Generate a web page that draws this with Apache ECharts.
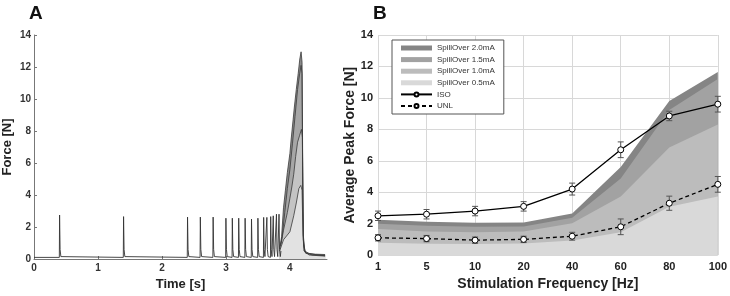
<!DOCTYPE html>
<html>
<head>
<meta charset="utf-8">
<script src="https://cdn.jsdelivr.net/npm/echarts@6/dist/echarts.min.js"></script>
<style>
html, body { margin: 0; padding: 0; background: #fff; }
#chart { width: 730px; height: 296px; }
</style>
</head>
<body>
<div id="chart"></div>
<script>
// ---- panel A : force trace over time ----
var spikeTimes = [0.4, 1.4, 2.4, 2.6, 2.8, 3.0, 3.1, 3.2, 3.3, 3.4, 3.5, 3.59, 3.64, 3.7, 3.74, 3.79, 3.83];
var spikePeaks = [2.75, 2.65, 2.62, 2.62, 2.62, 2.55, 2.55, 2.55, 2.55, 2.5, 2.55, 2.6, 2.6, 2.65, 2.7, 2.8, 2.8];
var baseLevel = 0.1;
var tetanus20 = [[3.84,0.6],[3.87,1.4],[3.9,3.2],[3.93,4.3],[3.96,5.4],[4.0,6.6],[4.02,7.5],[4.05,8.7],[4.07,9.5],[4.1,10.6],[4.13,11.6],[4.155,12.5],[4.175,12.95],[4.19,12.3],[4.2,6.0],[4.21,1.5],[4.23,0.5],[4.3,0.35],[4.4,0.3],[4.55,0.28]];
var tetanus15 = [[3.85,0.8],[3.88,1.4],[3.92,2.9],[3.96,4.4],[4.0,5.6],[4.04,7.2],[4.08,8.9],[4.12,10.6],[4.15,11.5],[4.175,12.1],[4.19,11.6],[4.2,5.0],[4.21,1.2],[4.24,0.4],[4.35,0.25],[4.55,0.22]];
var tetanus10 = [[3.86,0.9],[3.9,1.8],[3.96,2.9],[4.0,3.8],[4.03,4.5],[4.06,5.3],[4.09,6.4],[4.12,7.3],[4.15,7.7],[4.18,8.1],[4.195,7.6],[4.205,3.0],[4.215,0.8],[4.25,0.35],[4.55,0.2]];
var tetanus05 = [[3.84,0.5],[3.9,1.2],[4.0,1.7],[4.06,2.7],[4.1,3.5],[4.14,4.4],[4.17,4.6],[4.19,4.3],[4.205,1.5],[4.22,0.5],[4.3,0.25],[4.55,0.18]];

// ---- panel B : average peak force ----
var freqs = ['1', '5', '10', '20', '40', '60', '80', '100'];
var spill20 = [2.25, 2.12, 2.05, 2.07, 2.65, 5.6, 9.8, 11.65];
var spill15 = [2.0, 1.87, 1.8, 1.82, 2.38, 4.87, 9.23, 11.2];
var spill10 = [1.66, 1.5, 1.45, 1.5, 2.03, 3.73, 6.85, 8.3];
var spill05 = [0.79, 0.72, 0.7, 0.73, 0.93, 1.45, 3.07, 3.73];
var isoMean = [2.5, 2.6, 2.8, 3.1, 4.2, 6.7, 8.85, 9.6];
var isoErr = [0.3, 0.3, 0.3, 0.3, 0.38, 0.5, 0.3, 0.5];
var unlMean = [1.1, 1.05, 0.95, 1.0, 1.2, 1.8, 3.3, 4.5];
var unlErr = [0.2, 0.2, 0.2, 0.2, 0.25, 0.5, 0.45, 0.5];

// spike train built from the read spike times / peaks
var spikeTrace = [[0, baseLevel]];
for (var i = 0; i < spikeTimes.length; i++) {
    var t = spikeTimes[i];
    spikeTrace.push([t - 0.004, baseLevel]);
    spikeTrace.push([t, spikePeaks[i]]);
    spikeTrace.push([t + 0.008, 0.6]);
    spikeTrace.push([t + 0.02, baseLevel + 0.05]);
}
spikeTrace.push([3.86, 0.5]);

function errBars(mean, err) {
    var out = [];
    for (var i = 0; i < mean.length; i++) {
        out.push([i, mean[i] - err[i], mean[i] + err[i]]);
    }
    return out;
}

function renderErr(params, api) {
    var top = api.coord([api.value(0), api.value(2)]);
    var bot = api.coord([api.value(0), api.value(1)]);
    var w = 3;
    var st = { stroke: '#555', lineWidth: 1 };
    return {
        type: 'group',
        children: [
            { type: 'line', shape: { x1: top[0], y1: top[1], x2: bot[0], y2: bot[1] }, style: st },
            { type: 'line', shape: { x1: top[0] - w, y1: top[1], x2: top[0] + w, y2: top[1] }, style: st },
            { type: 'line', shape: { x1: bot[0] - w, y1: bot[1], x2: bot[0] + w, y2: bot[1] }, style: st }
        ]
    };
}

var font = 'Liberation Sans';
var labA = { color: '#333', fontSize: 10, fontWeight: 'bold', fontFamily: font };
var labB = { color: '#222', fontSize: 11, fontWeight: 'bold', fontFamily: font };

function tetSeries(name, data, fill) {
    return {
        name: name, type: 'line', xAxisIndex: 0, yAxisIndex: 0,
        data: data, showSymbol: false, symbol: 'none', silent: true,
        lineStyle: { color: '#3a3a3a', width: 0.8 },
        areaStyle: { color: fill, opacity: 1 }
    };
}
function spillSeries(name, data, fill) {
    return {
        name: name, type: 'line', xAxisIndex: 1, yAxisIndex: 1,
        data: data, symbol: 'none', color: fill,
        lineStyle: { width: 0 },
        areaStyle: { color: fill, opacity: 1 }
    };
}

var myChart = echarts.init(document.getElementById('chart'));
var option = {
    animation: false,
    title: [
        { text: 'A', left: 24, top: -1, textStyle: { fontSize: 19, fontWeight: 'bold', fontFamily: font, color: '#111' } },
        { text: 'B', left: 368, top: -1, textStyle: { fontSize: 19, fontWeight: 'bold', fontFamily: font, color: '#111' } }
    ],
    grid: [
        { left: 33, right: 403, top: 35, bottom: 36 },
        { left: 378, right: 11, top: 35, bottom: 36 }
    ],
    legend: {
        orient: 'vertical', left: 392, top: 40,
        padding: [3, 9, 3, 8],
        itemWidth: 31, itemHeight: 5, itemGap: 1.6, itemTextGap: 3,
        borderColor: '#555', borderWidth: 1, backgroundColor: '#fff',
        textStyle: { fontSize: 8, lineHeight: 10, color: '#333', fontFamily: font },
        data: [
            { name: 'SpillOver 2.0mA', icon: 'rect' },
            { name: 'SpillOver 1.5mA', icon: 'rect' },
            { name: 'SpillOver 1.0mA', icon: 'rect' },
            { name: 'SpillOver 0.5mA', icon: 'rect' },
            'ISO', 'UNL'
        ]
    },
    xAxis: [
        {
            type: 'value', gridIndex: 0, min: 0, max: 4.58, interval: 1,
            name: 'Time [s]', nameLocation: 'middle', nameGap: 19,
            nameTextStyle: { fontSize: 13, fontWeight: 'bold', fontFamily: font, color: '#222' },
            axisLine: { lineStyle: { color: '#777' } },
            axisTick: { inside: true, length: 3, lineStyle: { color: '#777' } },
            axisLabel: Object.assign({ margin: 4, showMaxLabel: false }, labA),
            splitLine: { show: false }
        },
        {
            type: 'category', gridIndex: 1, data: freqs, boundaryGap: false,
            name: 'Stimulation Frequency [Hz]', nameLocation: 'middle', nameGap: 19,
            nameTextStyle: { fontSize: 14, fontWeight: 'bold', fontFamily: font, color: '#222' },
            axisLine: { show: false },
            axisTick: { show: false },
            axisLabel: Object.assign({ margin: 6 }, labB),
            splitLine: { show: true, lineStyle: { color: '#d8d8d8' } }
        }
    ],
    yAxis: [
        {
            type: 'value', gridIndex: 0, min: 0, max: 14, interval: 2,
            name: 'Force [N]', nameLocation: 'middle', nameGap: 20,
            nameTextStyle: { fontSize: 13, fontWeight: 'bold', fontFamily: font, color: '#222' },
            axisLine: { show: true, lineStyle: { color: '#777' } },
            axisTick: { show: true, inside: true, length: 3, lineStyle: { color: '#777' } },
            axisLabel: Object.assign({ margin: 3 }, labA),
            splitLine: { show: false }
        },
        {
            type: 'value', gridIndex: 1, min: 0, max: 14, interval: 2,
            name: 'Average Peak Force [N]', nameLocation: 'middle', nameGap: 16,
            nameTextStyle: { fontSize: 14, fontWeight: 'bold', fontFamily: font, color: '#222' },
            axisLine: { show: false },
            axisTick: { show: false },
            axisLabel: Object.assign({ margin: 5 }, labB),
            splitLine: { show: true, lineStyle: { color: '#d8d8d8' } }
        }
    ],
    series: [
        tetSeries('A 2.0mA', tetanus20, '#8a8a8a'),
        tetSeries('A 1.5mA', tetanus15, '#a6a6a6'),
        tetSeries('A 1.0mA', tetanus10, '#c4c4c4'),
        tetSeries('A 0.5mA', tetanus05, '#e2e2e2'),
        {
            name: 'A trace', type: 'line', xAxisIndex: 0, yAxisIndex: 0,
            data: spikeTrace, showSymbol: false, symbol: 'none', silent: true,
            lineStyle: { color: '#333', width: 0.9 }
        },
        spillSeries('SpillOver 2.0mA', spill20, '#858585'),
        spillSeries('SpillOver 1.5mA', spill15, '#a2a2a2'),
        spillSeries('SpillOver 1.0mA', spill10, '#bcbcbc'),
        spillSeries('SpillOver 0.5mA', spill05, '#d9d9d9'),
        {
            name: 'ISO err', type: 'custom', xAxisIndex: 1, yAxisIndex: 1,
            data: errBars(isoMean, isoErr), renderItem: renderErr, z: 3,
            encode: { x: 0, y: [1, 2] }
        },
        {
            name: 'UNL err', type: 'custom', xAxisIndex: 1, yAxisIndex: 1,
            data: errBars(unlMean, unlErr), renderItem: renderErr, z: 3,
            encode: { x: 0, y: [1, 2] }
        },
        {
            name: 'ISO', type: 'line', xAxisIndex: 1, yAxisIndex: 1, z: 4,
            data: isoMean, symbol: 'circle', symbolSize: 6, color: '#000',
            lineStyle: { color: '#000', width: 1.3 },
            itemStyle: { color: '#fff', borderColor: '#000', borderWidth: 1 }
        },
        {
            name: 'UNL', type: 'line', xAxisIndex: 1, yAxisIndex: 1, z: 4,
            data: unlMean, symbol: 'circle', symbolSize: 6, color: '#000',
            lineStyle: { color: '#000', width: 1.3, type: [4, 3] },
            itemStyle: { color: '#fff', borderColor: '#000', borderWidth: 1 }
        }
    ]
};
myChart.setOption(option);
</script>
</body>
</html>
